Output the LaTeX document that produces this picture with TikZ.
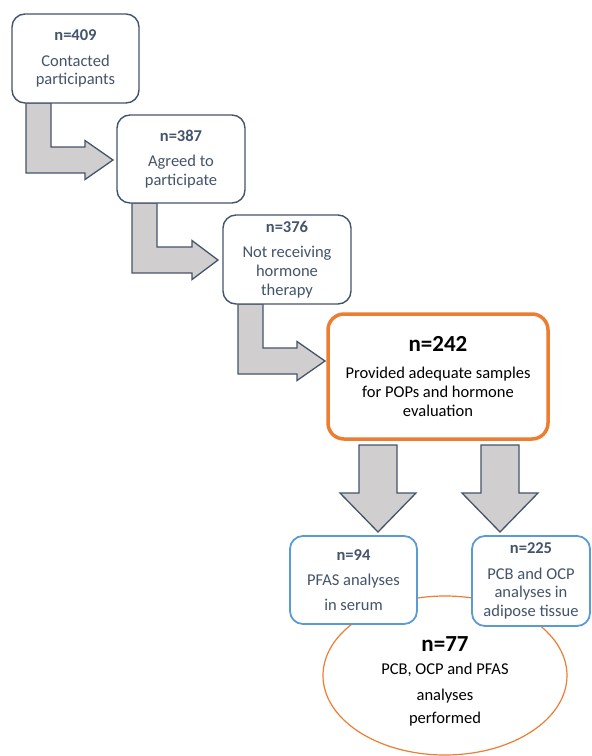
\documentclass[tikz,border=0pt]{standalone}
\usepackage{fontspec}
\setmainfont{Carlito}
\usetikzlibrary{positioning,calc,shapes.geometric}
\definecolor{slate}{HTML}{44546A}
\definecolor{blkgray}{HTML}{D0CECE}
\definecolor{orng}{HTML}{ED7D31}
\definecolor{blu}{HTML}{5B9BD5}

\begin{document}
\begin{tikzpicture}[x=1pt,y=-1pt,
  box/.style={draw=slate,line width=1.4pt,rounded corners=13pt,fill=white,align=center,
    text=slate,inner sep=0pt,font=\fontsize{16.5}{18.8}\selectfont},
  mainbox/.style={box,draw=orng,line width=3.5pt,rounded corners=16pt,text=black},
  subbox/.style={box,draw=blu,line width=1.8pt},
  blk/.style={draw=slate,line width=1.3pt,fill=blkgray,line join=miter}]
  \useasboundingbox (0,0) rectangle (592,756);
  % ---- overlap ellipse ----
  \draw[orng,line width=1.2pt] (445,675.5) ellipse [x radius=122,y radius=79.5];
  \node[align=center,inner sep=0pt,font=\fontsize{16.5}{24}\selectfont] (all) at (445,681)
    {{\fontsize{23}{24}\selectfont\bfseries n=77}\\[-1pt]PCB, OCP and PFAS\\[2pt]analyses\\[-1pt]performed};
  % ---- block arrows ----
  \foreach \xl/\yt/\yc/\xb/\xt in {26/103/160/85/113, 132/203/260/192/218, 238/304/361/297/325}{
    \draw[blk] (\xl,\yt) -- (\xl,\yc+13) -- (\xb,\yc+13) -- (\xb,\yc+19.5) -- (\xt,\yc)
      -- (\xb,\yc-19.5) -- (\xb,\yc-13) -- (\xl+25,\yc-13) -- (\xl+25,\yt) -- cycle;}
  \foreach \xc in {378,500}{
    \draw[blk] (\xc-19,445) -- (\xc-19,493) -- (\xc-38,493) -- (\xc,532) -- (\xc+38,493)
      -- (\xc+19,493) -- (\xc+19,445) -- cycle;}
  % ---- steps ----
  \node[box,minimum width=127,minimum height=89] (p1) at (75.5,58.5)
    {{\bfseries n=409}\\[7pt]Contacted\\participants};
  \node[box,minimum width=128,minimum height=88] (p2) at (181,159)
    {{\bfseries n=387}\\[7pt]Agreed to\\participate};
  \node[box,minimum width=128,minimum height=89] (p3) at (287,259.5)
    {{\bfseries n=376}\\[7pt]Not receiving\\hormone\\therapy};
  \node[mainbox,minimum width=220,minimum height=125] (p4) at (438,376.5)
    {{\fontsize{23}{24}\selectfont\bfseries n=242}\\[8pt]Provided adequate samples\\for POPs and hormone\\evaluation};
  % ---- analyses ----
  \node[subbox,minimum width=127,minimum height=88] (pfas) at (353.5,580)
    {{\bfseries n=94}\\[6pt]PFAS analyses\\[6pt]in serum};
  \node[subbox,minimum width=118,minimum height=90] (pcb) at (531,581)
    {{\bfseries n=225}\\[7pt]PCB and OCP\\analyses in\\adipose tissue};
\end{tikzpicture}
\end{document}
